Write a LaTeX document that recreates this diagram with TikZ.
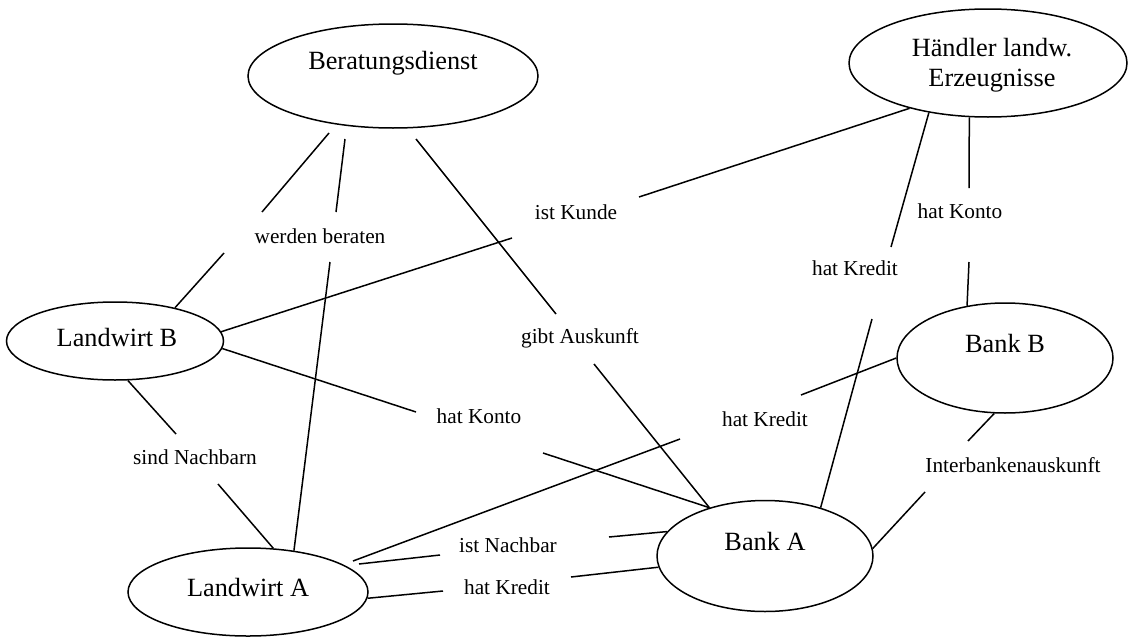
\documentclass[tikz,border=0pt]{standalone}
\usepackage{fontspec}
\setmainfont{Liberation Serif}
\usetikzlibrary{shapes.geometric}
\begin{document}
\begin{tikzpicture}[x=1pt,y=-1pt,
  ell/.style={draw, ellipse, line width=1.5pt, inner sep=0pt},
  ntext/.style={inner sep=0pt, align=center, font=\fontsize{26.3}{30}\selectfont},
  lbl/.style={inner sep=0pt, font=\fontsize{21.3}{25}\selectfont},
  con/.style={line width=1.5pt}]
\useasboundingbox (0,0) rectangle (1129,637);
% nodes
\node[ell, minimum width=290pt, minimum height=104pt] (bd) at (393,76) {};
\node[ntext] (bdt) at (393,63) {Beratungsdienst};
\node[ell, minimum width=278pt, minimum height=108pt] (hd) at (988,63) {};
\node[ntext] (hdt) at (992,65) {Händler landw.\\Erzeugnisse};
\node[ell, minimum width=217pt, minimum height=78pt] (lb) at (115,341) {};
\node[ntext] (lbt) at (117,337) {Landwirt B};
\node[ell, minimum width=240pt, minimum height=88pt] (la) at (248,592) {};
\node[ntext] (lat) at (248,587) {Landwirt A};
\node[ell, minimum width=216pt, minimum height=111pt] (ba) at (765,556) {};
\node[ntext] (bat) at (765,541) {Bank A};
\node[ell, minimum width=216pt, minimum height=110pt] (bb) at (1005,358) {};
\node[ntext] (bbt) at (1005,343) {Bank B};
% labels
\node[lbl] (l1) at (320,236) {werden beraten};
\node[lbl] (l2) at (576,212) {ist Kunde};
\node[lbl] (l3) at (960,211) {hat Konto};
\node[lbl] (l4) at (855,268) {hat Kredit};
\node[lbl] (l5) at (580,338) {gibt Auskunft};
\node[lbl] (l6) at (479,416) {hat Konto};
\node[lbl] (l7) at (195,457) {sind Nachbarn};
\node[lbl] (l8) at (765,419) {hat Kredit};
\node[lbl] (l9) at (1013,465) {Interbankenauskunft};
\node[lbl] (l10) at (508,545) {ist Nachbar};
\node[lbl] (l11) at (507,587) {hat Kredit};
% free ends
\coordinate (bd1) at (329,133); \coordinate (bd2) at (345,139); \coordinate (bd3) at (416,139);
\coordinate (wb1a) at (262,212); \coordinate (wb1b) at (224,253);
\coordinate (wb2a) at (336,212); \coordinate (wb2b) at (330,262);
\coordinate (ga1) at (556,314); \coordinate (ga2) at (594,364);
\coordinate (ik1) at (512,238); \coordinate (ik2) at (639,197);
\coordinate (hk1) at (891,247); \coordinate (hk2) at (872,319);
\coordinate (kt1) at (969,188); \coordinate (kt2) at (969,262);
\coordinate (hk3) at (416,412); \coordinate (hk4) at (543,453);
\coordinate (sn1) at (176,434); \coordinate (sn2) at (218,484);
\coordinate (lak) at (353,561); \coordinate (hkb1) at (680,439); \coordinate (hkb2) at (801,395);
\coordinate (lan) at (359,564); \coordinate (in1) at (440,555); \coordinate (in2) at (609,537);
\coordinate (hkl1) at (443,591); \coordinate (hkl2) at (571,577);
\coordinate (ib1) at (968,441); \coordinate (ib2) at (925,492);
% connectors
\draw[con] (bd1) -- (wb1a); \draw[con] (wb1b) -- (lb.29);
\draw[con] (bd2) -- (wb2a); \draw[con] (wb2b) -- (la.42);
\draw[con] (bd3) -- (ga1); \draw[con] (ga2) -- (ba.139);
\draw[con] (lb.5) -- (ik1); \draw[con] (ik2) -- (hd.210);
\draw[con] (hd.220) -- (hk1); \draw[con] (hk2) -- (ba.41);
\draw[con] (hd.251) -- (kt1); \draw[con] (kt2) -- (bb.126);
\draw[con] (lb.356) -- (hk3); \draw[con] (hk4) -- (ba.139);
\draw[con] (lb.288) -- (sn1); \draw[con] (sn2) -- (la.60);
\draw[con] (lak) -- (hkb1); \draw[con] (hkb2) -- (bb.180);
\draw[con] (lan) -- (in1); \draw[con] (in2) -- (ba.166);
\draw[con] (la.357) -- (hkl1); \draw[con] (hkl2) -- (ba.186);
\draw[con] (bb.259) -- (ib1); \draw[con] (ib2) -- (ba.4);
\end{tikzpicture}
\end{document}
